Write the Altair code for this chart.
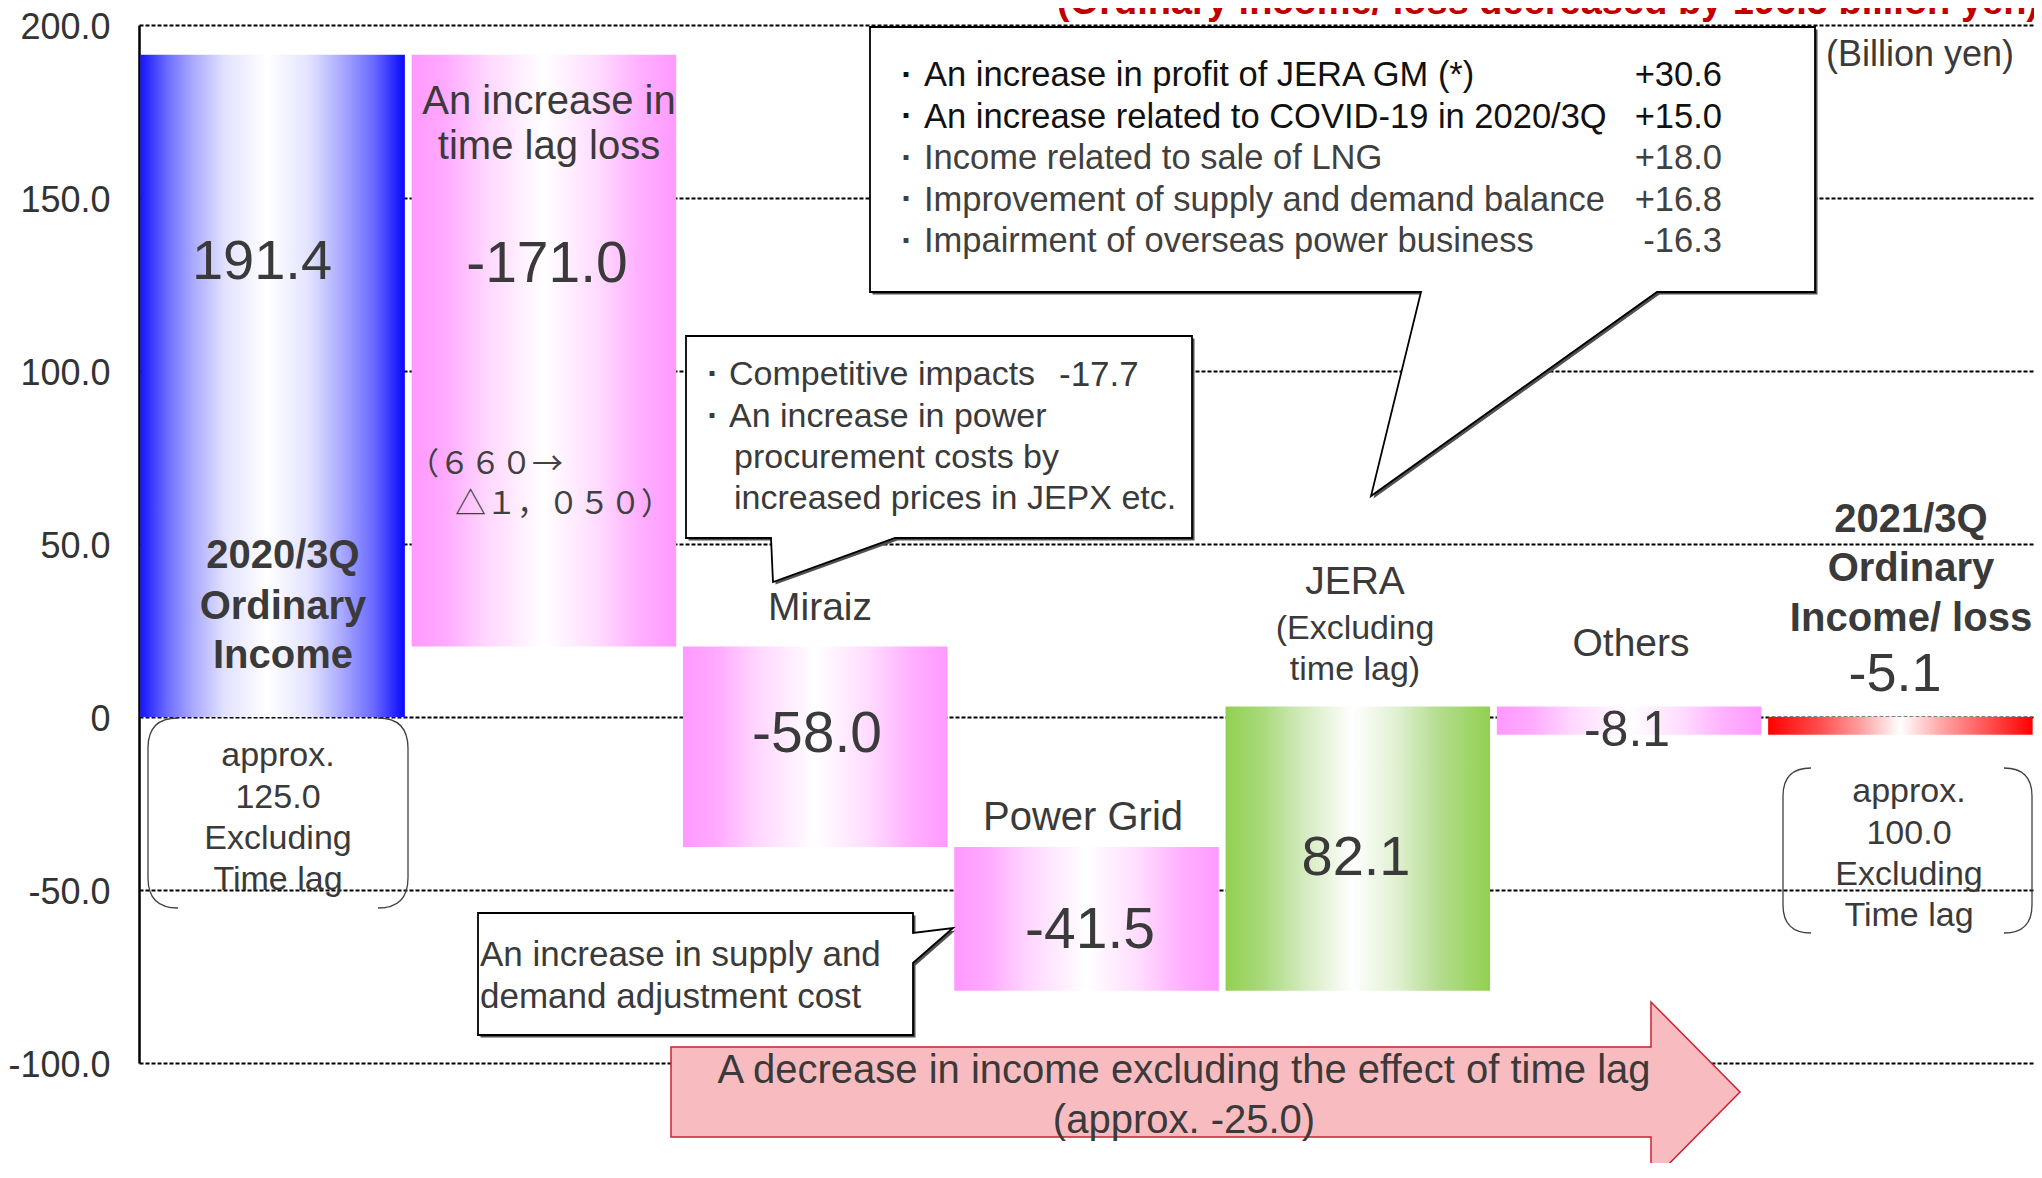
import altair as alt
import pandas as pd

# ---------------- data ----------------
categories = ["2020/3Q Ordinary Income", "An increase in time lag loss", "Miraiz",
              "Power Grid", "JERA (Excluding time lag)", "Others",
              "2021/3Q Ordinary Income/ loss"]
start_income = 191.4
changes = [-171.0, -58.0, -41.5, 82.1, -8.1]
end_income = -5.1
bar_styles = ["blue", "pink", "pink", "pink", "green", "pink", "red"]
axis_values = [-100, -50, 0, 50, 100, 150, 200]

jera_items = ["An increase in profit of JERA GM (*)",
              "An increase related to COVID-19 in 2020/3Q",
              "Income related to sale of LNG",
              "Improvement of supply and demand balance",
              "Impairment of overseas power business"]
jera_values = ["+30.6", "+15.0", "+18.0", "+16.8", "-16.3"]
miraiz_items = ["Competitive impacts", "An increase in power"]
miraiz_more = ["procurement costs by", "increased prices in JEPX etc."]
miraiz_value = "-17.7"
grid_note = ["An increase in supply and", "demand adjustment cost"]
arrow_note = ["A decrease in income excluding the effect of time lag", "(approx. -25.0)"]
approx_before = ["approx.", "125.0", "Excluding", "Time lag"]
approx_after = ["approx.", "100.0", "Excluding", "Time lag"]
timelag_note = ["（６６０→", "△１，０５０）"]
title_text = "(Ordinary income/ loss decreased by 196.5 billion yen)"
unit_text = "(Billion yen)"

# ---------------- waterfall table ----------------
lo, hi = [0.0], [start_income]
level = start_income
for c in changes:
    lo.append(level)
    level = round(level + c, 1)
    hi.append(level)
lo.append(0.0)
hi.append(end_income)
labels = [f"{start_income:.1f}"] + [f"{c:.1f}" for c in changes] + [f"{end_income:.1f}"]
bars = pd.DataFrame({"cat": categories, "lo": lo, "hi": hi, "style": bar_styles, "label": labels})

# ---------------- layout constants ----------------
W, H = 1895, 1038
OX, OY = 139, 25
FONT = "Liberation Sans"
CJK = "Noto Sans CJK JP"
TXT = "#3a3a3a"
one = pd.DataFrame({"k": [0]})

def grad(stops):
    return {"gradient": "linear", "x1": 0, "y1": 0, "x2": 1, "y2": 0,
            "stops": [{"offset": o, "color": c} for o, c in stops]}

gradients = {
    "blue": grad([(0, "#1414ff"), (0.1, "#6b6bff"), (0.2, "#aaaaff"), (0.32, "#e2e2ff"),
                  (0.48, "#ffffff"), (0.64, "#e2e2ff"), (0.76, "#aaaaff"), (0.88, "#6b6bff"),
                  (1, "#0808ff")]),
    "pink": grad([(0, "#ff99ff"), (0.12, "#ffa8ff"), (0.28, "#ffd6ff"), (0.5, "#ffffff"),
                  (0.7, "#ffdcff"), (0.86, "#ffb0ff"), (1, "#ff99ff")]),
    "green": grad([(0, "#92d050"), (0.15, "#abda7e"), (0.3, "#d5ebc0"), (0.48, "#ffffff"),
                   (0.65, "#e0f0d0"), (0.8, "#b5dd90"), (1, "#92d050")]),
    "red": grad([(0, "#ff0000"), (0.2, "#ff5050"), (0.35, "#ffa0a0"), (0.5, "#ffffff"),
                 (0.65, "#ffa8a8"), (0.8, "#ff6060"), (1, "#ff0000")]),
}

x_enc = alt.X("cat:N", axis=None,
              scale=alt.Scale(domain=categories, paddingInner=0.025, paddingOuter=0.005))
y_enc = alt.Y("lo:Q", title=None,
              scale=alt.Scale(domain=[-100, 200], nice=False, zero=False),
              axis=alt.Axis(values=axis_values,
                            labelExpr=("datum.value == 0 ? '0' : (datum.value < 0 ? "
                                       "'-' + format(-datum.value, '.1f') : format(datum.value, '.1f'))"),
                            labelFont=FONT, labelFontSize=36, labelColor="#333333",
                            labelPadding=29, labelOffset=2, ticks=False,
                            domainColor="black", domainWidth=2.5,
                            grid=True, gridColor="black", gridDash=[4, 2], gridWidth=2))

def bar_layer(style):
    return (alt.Chart(bars).transform_filter(alt.datum.style == style)
            .mark_bar(color=gradients[style])
            .encode(x=x_enc, y=y_enc, y2="hi:Q"))

def T(s, x, y, size, weight="normal", color=TXT, align="center", font=FONT, baseline="middle"):
    yy = y - OY + (0.058 * size if baseline == "middle" else 0)
    return (alt.Chart(one)
            .mark_text(text=s, font=font, fontSize=size, fontWeight=weight, color=color,
                       align=align, baseline=baseline)
            .encode(x=alt.value(x - OX), y=alt.value(yy)))

def poly(pts, dx=0, dy=0):
    return "M " + " L ".join(f"{x - OX + dx:.1f} {y - OY + dy:.1f}" for x, y in pts) + " Z"

def bracket(x0, x1, y0, y1, r):
    a, b, c, d = x0 - OX, x1 - OX, y0 - OY, y1 - OY
    return (f"M {a + r} {c} Q {a} {c} {a} {c + r} L {a} {d - r} Q {a} {d} {a + r} {d} "
            f"M {b - r} {c} Q {b} {c} {b} {c + r} L {b} {d - r} Q {b} {d} {b - r} {d}")

def S(path, fill=None, stroke=None, sw=1.0):
    kw = dict(shape=path, size=4, opacity=1)
    if fill:
        kw.update(filled=True, fill=fill)
    else:
        kw.update(filled=False, fill="transparent")
    if stroke:
        kw.update(stroke=stroke, strokeWidth=sw)
    else:
        kw.update(strokeWidth=0)
    return alt.Chart(one).mark_point(**kw).encode(x=alt.value(0), y=alt.value(0))

layers = [bar_layer(s) for s in ["blue", "pink", "green", "red"]]

# brackets
layers.append(S(bracket(148, 408, 718, 908, 30), stroke="#404040", sw=1.3))
layers.append(S(bracket(1783, 2032, 768, 933, 28), stroke="#404040", sw=1.3))

# callouts
callA = [(870, 27), (1815, 27), (1815, 292), (1657, 292), (1371, 496), (1421, 292), (870, 292)]
callB = [(686, 336), (1192, 336), (1192, 538), (895, 538), (773, 582), (771, 538), (686, 538)]
callC = [(478, 913), (913, 913), (913, 933), (953, 928), (913, 963), (913, 1035), (478, 1035)]
for pts in (callA, callB, callC):
    layers.append(S(poly(pts, 2.5, 2.5), fill="#505050"))
    layers.append(S(poly(pts), fill="white", stroke="black", sw=1.8))

# big arrow
arrow = [(671, 1047), (1651, 1047), (1651, 1002), (1740, 1092), (1651, 1182), (1651, 1137), (671, 1137)]
layers.append(S(poly(arrow), fill="#f8bcc0", stroke="#cc2030", sw=1.5))

# value labels
value_pos = [(262, 259, 56), (547, 262, 57), (817, 732, 57), (1090, 928, 57),
             (1356, 855, 56), (1627, 728, 50), (1895, 672, 54)]
for lab, (x, y, s) in zip(labels, value_pos):
    layers.append(T(lab, x, y, s))

# category labels
for s, y in zip(["2020/3Q", "Ordinary", "Income"], [554, 605, 654]):
    layers.append(T(s, 283, y, 40, weight="bold"))
for s, y in zip(["An increase in", "time lag loss"], [100, 145]):
    layers.append(T(s, 549, y, 40))
layers.append(T(timelag_note[0], 408, 463, 31, align="left", font=CJK, color="#404040"))
layers.append(T(timelag_note[1], 455, 503, 31, align="left", font=CJK, color="#404040"))
layers.append(T("Miraiz", 820, 606, 39))
layers.append(T("Power Grid", 1083, 816, 40))
layers.append(T("JERA", 1355, 580, 39))
layers.append(T("(Excluding", 1355, 627, 34))
layers.append(T("time lag)", 1355, 668, 34))
layers.append(T("Others", 1631, 642, 39))
for s, y in zip(["2021/3Q", "Ordinary", "Income/ loss"], [518, 567, 617]):
    layers.append(T(s, 1911, y, 40, weight="bold"))

# bracket texts
for s, y in zip(approx_before, [754, 796, 837, 878]):
    layers.append(T(s, 278, y, 34))
for s, y in zip(approx_after, [790, 832, 873, 914]):
    layers.append(T(s, 1909, y, 34))

# callout A texts
ys_a = [74, 115.5, 157, 198.5, 240]
for i, (s, v, y) in enumerate(zip(jera_items, jera_values, ys_a)):
    col = "#111111" if i < 2 else "#404040"
    layers.append(T("·", 907, y, 34, weight="bold", color=col))
    layers.append(T(s, 924, y, 34.5, align="left", color=col))
    layers.append(T(v, 1722, y, 34.5, align="right", color=col))

# callout B texts
for s, y in zip(miraiz_items, [373, 415]):
    layers.append(T("·", 713, y, 34, weight="bold"))
    layers.append(T(s, 729, y, 34, align="left"))
layers.append(T(miraiz_value, 1059, 373, 35, align="left"))
for s, y in zip(miraiz_more, [456, 497]):
    layers.append(T(s, 734, y, 34, align="left"))

# callout C texts
for s, y in zip(grid_note, [953, 995]):
    layers.append(T(s, 480, y, 35, align="left"))

# arrow texts
for s, y in zip(arrow_note, [1069, 1119]):
    layers.append(T(s, 1184, y, 40))

# title and unit
layers.append(T(title_text, 1548, 14, 38, weight="bold", color="#c00000", baseline="alphabetic"))
layers.append(T(unit_text, 1920, 53, 36))

chart = (alt.layer(*layers)
         .properties(width=W, height=H,
                     autosize=alt.AutoSizeParams(type="none"),
                     padding={"left": 131, "top": 17, "right": 0, "bottom": 100},
                     background="white")
         .configure_view(strokeWidth=0))

chart.save("out.html", embed_options={"renderer": "svg", "actions": False})
